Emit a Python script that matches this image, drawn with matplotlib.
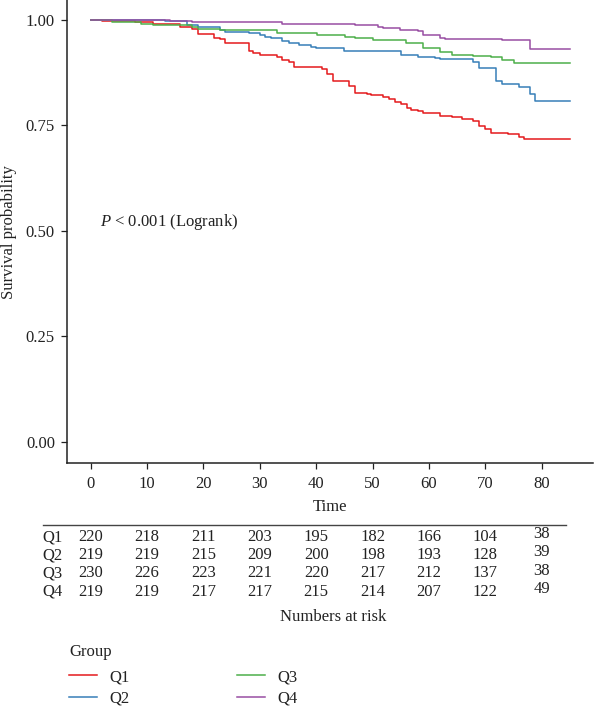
import matplotlib
matplotlib.use("Agg")
import matplotlib.pyplot as plt
from matplotlib.transforms import blended_transform_factory

plt.rcParams['font.family'] = ['Liberation Serif', 'DejaVu Serif']
plt.rcParams['mathtext.fontset'] = 'custom'
plt.rcParams['mathtext.rm'] = 'Liberation Serif'
plt.rcParams['mathtext.it'] = 'Liberation Serif:italic'

# survival curves (step points)
q1_time = [0, 1.95, 7.9, 11.1, 15.8, 17.9, 19.0, 21.9, 22.9, 23.9, 28.0, 28.8, 30.0, 33.0, 34.0,
           35.1, 36.1, 41.0, 42.0, 43.0, 45.9, 46.9, 49.0, 49.8, 51.8, 53.0, 54.0, 55.0, 56.1,
           56.9, 58.0, 59.0, 62.0, 64.0, 65.9, 67.9, 68.9, 69.9, 71.0, 74.0, 76.0, 76.9, 85]
q1_surv = [1.0, 0.997, 0.995, 0.991, 0.984, 0.979, 0.966, 0.958, 0.954, 0.945, 0.927, 0.921, 0.917,
           0.912, 0.905, 0.901, 0.888, 0.884, 0.872, 0.856, 0.844, 0.826, 0.824, 0.821, 0.817, 0.812,
           0.805, 0.800, 0.791, 0.787, 0.783, 0.779, 0.773, 0.769, 0.765, 0.761, 0.749, 0.741, 0.733,
           0.729, 0.723, 0.718, 0.718]

q2_time = [0, 13.2, 17.0, 19.1, 22.9, 23.8, 28.0, 30.0, 30.9, 32.0, 34.0, 35.1, 37.0, 39.1, 40.0,
           45.0, 55.0, 58.0, 61.1, 62.0, 67.9, 68.9, 71.9, 72.9, 76.0, 77.9, 78.8, 85]
q2_surv = [1.0, 0.998, 0.988, 0.982, 0.975, 0.972, 0.968, 0.963, 0.960, 0.957, 0.951, 0.946, 0.941,
           0.935, 0.933, 0.927, 0.916, 0.912, 0.909, 0.907, 0.899, 0.886, 0.854, 0.848, 0.842, 0.825,
           0.808, 0.808]

q3_time = [0, 3.7, 4.9, 9.0, 11.1, 17.9, 19.1, 22.9, 33.0, 40.1, 45.1, 46.9, 50.0, 55.9, 59.0, 62.0,
           64.0, 67.9, 71.0, 72.9, 75.0, 85]
q3_surv = [1.0, 0.996, 0.994, 0.990, 0.988, 0.984, 0.979, 0.975, 0.968, 0.964, 0.960, 0.958, 0.953,
           0.945, 0.933, 0.925, 0.917, 0.915, 0.911, 0.905, 0.897, 0.897]

q4_time = [0, 14.1, 17.9, 33.9, 46.9, 51.0, 51.9, 54.9, 58.0, 59.0, 62.0, 62.8, 72.9, 77.9, 85]
q4_surv = [1.0, 0.998, 0.996, 0.990, 0.987, 0.984, 0.980, 0.976, 0.974, 0.963, 0.957, 0.954, 0.953,
           0.931, 0.931]

groups = ['Q1', 'Q2', 'Q3', 'Q4']
colors = ['#E41A1C', '#377EB8', '#4DAF4A', '#984EA3']

# numbers at risk
risk_times = [0, 10, 20, 30, 40, 50, 60, 70, 80]
risk_q1 = [220, 218, 211, 203, 195, 182, 166, 104, 38]
risk_q2 = [219, 219, 215, 209, 200, 198, 193, 128, 39]
risk_q3 = [230, 226, 223, 221, 220, 217, 212, 137, 38]
risk_q4 = [219, 219, 217, 217, 215, 214, 207, 122, 49]

W, H = 595, 708
fs = 12
ink = '#222222'

fig = plt.figure(figsize=(W / 100, H / 100), dpi=100)
ax = fig.add_axes([66.7 / W, 1 - 463.3 / H, (593 - 66.7) / W, 463.3 / H])

curves = [(q1_time, q1_surv), (q2_time, q2_surv), (q3_time, q3_surv), (q4_time, q4_surv)]
handles = []
for (t, s), g, c in zip(curves, groups, colors):
    h, = ax.step(t, s, where='post', color=c, lw=1.1, label=g)
    handles.append(h)

ax.set_xlim(-4.26, 89.1)
ax.set_ylim(-0.0505, 1.047)
ax.set_xticks(risk_times)
ax.set_yticks([0, 0.25, 0.5, 0.75, 1.0])
ax.set_yticklabels(['0.00', '0.25', '0.50', '0.75', '1.00'])
ax.spines['top'].set_visible(False)
ax.spines['right'].set_visible(False)
for sp in ('left', 'bottom'):
    ax.spines[sp].set_linewidth(1.1)
    ax.spines[sp].set_color(ink)
ax.tick_params(length=4.5, width=0.9, color=ink, labelsize=fs, labelcolor=ink)
ax.tick_params(axis='x', pad=5)
ax.tick_params(axis='y', pad=4)

ax.set_ylabel('Survival probability', fontsize=fs, color=ink, va='center')
ax.yaxis.set_label_coords(-0.109, 0.5)
ax.set_xlabel('Time', fontsize=fs, color=ink)
ax.xaxis.set_label_coords(0.5, -(506.7 - 463.3) / 463.3)
ax.xaxis.label.set_va('center')

ax.text(1.65, 0.522, r'$P$ < 0.001 (Logrank)', fontsize=fs, va='center', ha='left', color=ink)

# risk table
tr = blended_transform_factory(ax.transData, fig.transFigure)
fig.add_artist(plt.Line2D([43 / W, 566 / W], [1 - 525 / H, 1 - 525 / H], color='#444444', lw=1.0))
row_y = [537, 555, 573.3, 591.7]
for g, counts, y in zip(groups, [risk_q1, risk_q2, risk_q3, risk_q4], row_y):
    fig.text(42.7 / W, 1 - y / H, g, fontsize=fs, ha='left', va='center', color=ink)
    for i, (tt, n) in enumerate(zip(risk_times, counts)):
        dy = 2.5 if i == len(risk_times) - 1 else 0
        ax.text(tt, 1 - (y - dy) / H, str(n), transform=tr, fontsize=fs, ha='center', va='center',
                color=ink)
fig.text(333 / W, 1 - 616.7 / H, 'Numbers at risk', fontsize=fs, ha='center', va='center', color=ink)

# legend
fig.text(69 / W, 1 - 652 / H, 'Group', fontsize=fs, ha='left', va='center', color=ink)
leg = fig.legend(handles=handles, labels=groups, ncol=2, loc='upper left',
                 bbox_to_anchor=(69 / W, 1 - 669 / H), frameon=False, fontsize=fs,
                 handlelength=1.7, handletextpad=0.75, columnspacing=6.4, labelspacing=0.32,
                 borderpad=0.0, borderaxespad=0.0)
for txt in leg.get_texts():
    txt.set_color(ink)

fig.savefig('out.png', dpi=100)
